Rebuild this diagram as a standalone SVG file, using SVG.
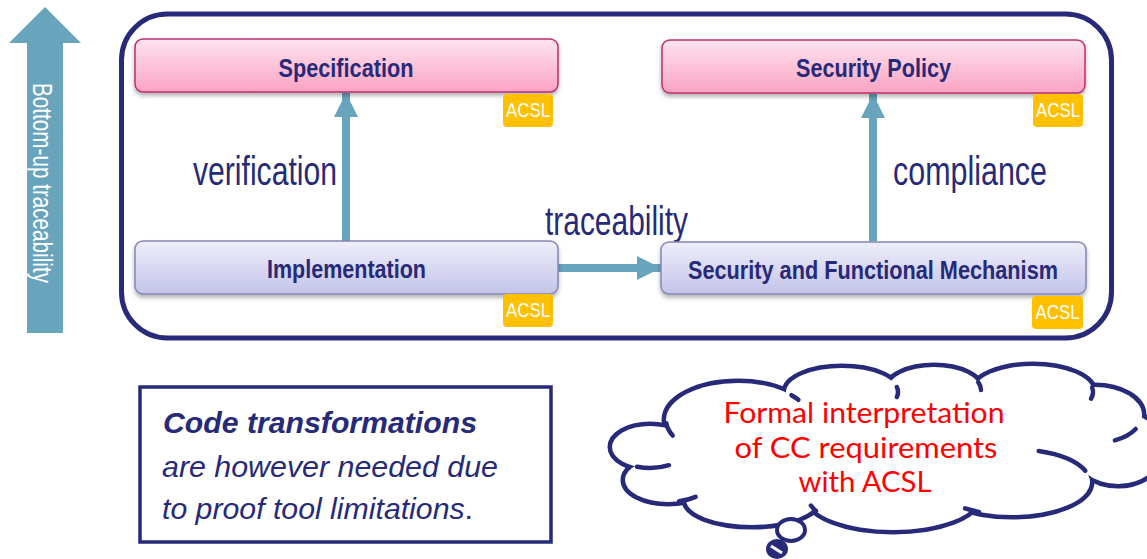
<svg xmlns="http://www.w3.org/2000/svg" width="1147" height="559" viewBox="0 0 1147 559">
<defs>
  <linearGradient id="gPink" x1="0" y1="0" x2="0" y2="1">
    <stop offset="0" stop-color="#fde4ef"/>
    <stop offset="1" stop-color="#fba3c3"/>
  </linearGradient>
  <linearGradient id="gLav" x1="0" y1="0" x2="0" y2="1">
    <stop offset="0" stop-color="#efeefa"/>
    <stop offset="1" stop-color="#c3c3ea"/>
  </linearGradient>
  <filter id="shadow" x="-5%" y="-20%" width="110%" height="150%">
    <feDropShadow dx="0" dy="3" stdDeviation="2" flood-color="#000" flood-opacity="0.3"/>
  </filter>
  <marker id="ah" viewBox="0 0 24 24" refX="24" refY="12" markerWidth="24" markerHeight="24" markerUnits="userSpaceOnUse" orient="auto">
    <path d="M0,0 L24,12 L0,24 Z" fill="#68a4bb"/>
  </marker>
</defs>
<style>
  .navy { fill: #262a78; }
  .box-pink { fill: url(#gPink); stroke: #bd2e6e; stroke-width: 1.5; filter: url(#shadow); }
  .box-lav { fill: url(#gLav); stroke: #8585b5; stroke-width: 1.5; filter: url(#shadow); }
  .lbl { font-family: "Liberation Sans Narrow", "Liberation Sans", Arial, sans-serif; font-weight: bold; font-size: 26px; fill: #262a78; text-anchor: middle; }
  .badge { fill: #ffc000; }
  .badge-t { font-family: "Liberation Sans Narrow", "Liberation Sans", Arial, sans-serif; font-size: 21px; fill: #ffffff; text-anchor: middle; }
  .edge-lbl { font-family: "Liberation Sans Narrow", "Liberation Sans", Arial, sans-serif; font-size: 40px; fill: #262a78; }
  .conn { stroke: #68a4bb; stroke-width: 8; fill: none; }
  .cloud-s { fill: none; stroke: #262a78; stroke-width: 9; }
  .cloud-f { fill: #ffffff; stroke: none; }
  .tick { fill: none; stroke: #262a78; stroke-width: 4.5; stroke-linecap: round; }
  .cloud-t { font-family: Lato, "Open Sans", sans-serif; font-size: 28px; fill: #ff0000; text-anchor: middle; }
  .note { font-family: "Liberation Sans", Arial, sans-serif; font-size: 30px; font-style: italic; fill: #262a78; }
</style>

<!-- Bottom-up traceability arrow -->
<g id="bottom-up">
  <polygon points="45,7 81,43 63,43 63,333 27,333 27,43 9,43" fill="#68a4bb"/>
  <text transform="translate(33,183) rotate(90)" font-family="Liberation Sans Narrow, Liberation Sans, Arial, sans-serif" font-size="27" fill="#ffffff" text-anchor="middle" textLength="200" lengthAdjust="spacingAndGlyphs">Bottom-up traceability</text>
</g>

<!-- Container -->
<g id="container">
  <rect x="121.5" y="14" width="990" height="324" rx="46" fill="none" stroke="#262a78" stroke-width="5"/>
</g>

<!-- Connectors -->
<g id="connectors">
  <line class="conn" x1="346" y1="241" x2="346" y2="93" marker-end="url(#ah)"/>
  <line class="conn" x1="873" y1="241" x2="873" y2="94" marker-end="url(#ah)"/>
  <line class="conn" x1="558" y1="268" x2="661" y2="268" marker-end="url(#ah)"/>
  <text class="edge-lbl" x="193" y="185" textLength="144" lengthAdjust="spacingAndGlyphs">verification</text>
  <text class="edge-lbl" x="893" y="185" textLength="154" lengthAdjust="spacingAndGlyphs">compliance</text>
  <text class="edge-lbl" x="545" y="235" textLength="143" lengthAdjust="spacingAndGlyphs">traceability</text>
</g>

<g id="specification">
  <rect class="box-pink" x="135" y="39" width="423" height="53" rx="8"/>
  <text class="lbl" x="346" y="77" textLength="135" lengthAdjust="spacingAndGlyphs">Specification</text>
  <rect class="badge" x="503" y="94" width="50" height="33" rx="4"/>
  <text class="badge-t" x="528" y="117" textLength="44" lengthAdjust="spacingAndGlyphs">ACSL</text>
</g>

<g id="security-policy">
  <rect class="box-pink" x="662" y="40" width="423" height="53" rx="8"/>
  <text class="lbl" x="873.5" y="77" textLength="155" lengthAdjust="spacingAndGlyphs">Security Policy</text>
  <rect class="badge" x="1033" y="94" width="50" height="33" rx="4"/>
  <text class="badge-t" x="1058" y="117" textLength="44" lengthAdjust="spacingAndGlyphs">ACSL</text>
</g>

<g id="implementation">
  <rect class="box-lav" x="135" y="241" width="423" height="53" rx="8"/>
  <text class="lbl" x="346.5" y="278" textLength="159" lengthAdjust="spacingAndGlyphs">Implementation</text>
  <rect class="badge" x="503" y="294" width="50" height="33" rx="4"/>
  <text class="badge-t" x="528" y="317" textLength="44" lengthAdjust="spacingAndGlyphs">ACSL</text>
</g>

<g id="mechanism">
  <rect class="box-lav" x="661" y="242" width="425" height="52" rx="8"/>
  <text class="lbl" x="873" y="279" textLength="370" lengthAdjust="spacingAndGlyphs">Security and Functional Mechanism</text>
  <rect class="badge" x="1032" y="296" width="51" height="33" rx="4"/>
  <text class="badge-t" x="1057.5" y="319" textLength="44" lengthAdjust="spacingAndGlyphs">ACSL</text>
</g>

<!-- Note box -->
<g id="note">
  <rect x="140" y="387" width="411" height="155" fill="#ffffff" stroke="#262a78" stroke-width="3.5"/>
  <text class="note" x="163" y="433" font-weight="bold" textLength="314" lengthAdjust="spacingAndGlyphs">Code transformations</text>
  <text class="note" x="162" y="477" textLength="336" lengthAdjust="spacingAndGlyphs">are however needed due</text>
  <text class="note" x="162" y="519" textLength="311" lengthAdjust="spacingAndGlyphs">to proof tool limitations<tspan font-style="normal">.</tspan></text>
</g>

<!-- Cloud callout -->
<g id="cloud">
  <g class="cloud-s">
    <ellipse cx="738" cy="420" rx="72" ry="37"/>
    <ellipse cx="842" cy="392" rx="56" ry="24"/>
    <ellipse cx="934" cy="390" rx="47" ry="23"/>
    <ellipse cx="1033" cy="392" rx="60" ry="26"/>
    <ellipse cx="1095" cy="415" rx="47" ry="28"/>
    <ellipse cx="1118" cy="448" rx="45" ry="36"/>
    <ellipse cx="1012" cy="482" rx="78" ry="33"/>
    <ellipse cx="893" cy="497" rx="85" ry="33"/>
    <ellipse cx="752" cy="500" rx="66" ry="25"/>
    <ellipse cx="668" cy="480" rx="43" ry="22"/>
    <ellipse cx="650" cy="447" rx="38" ry="21"/>
  </g>
  <g class="cloud-f">
    <ellipse cx="738" cy="420" rx="72" ry="37"/>
    <ellipse cx="842" cy="392" rx="56" ry="24"/>
    <ellipse cx="934" cy="390" rx="47" ry="23"/>
    <ellipse cx="1033" cy="392" rx="60" ry="26"/>
    <ellipse cx="1095" cy="415" rx="47" ry="28"/>
    <ellipse cx="1118" cy="448" rx="45" ry="36"/>
    <ellipse cx="1012" cy="482" rx="78" ry="33"/>
    <ellipse cx="893" cy="497" rx="85" ry="33"/>
    <ellipse cx="752" cy="500" rx="66" ry="25"/>
    <ellipse cx="668" cy="480" rx="43" ry="22"/>
    <ellipse cx="650" cy="447" rx="38" ry="21"/>
    <polygon points="738,420 842,392 934,390 1033,392 1095,415 1118,448 1012,482 893,497 752,500 668,480 650,447"/>
  </g>
  <g class="tick">
    <path d="M791.5,395.2 A72,37 0 0 1 798.4,399.8"/>
    <path d="M896.8,387 A56,24 0 0 1 896.8,397"/>
    <path d="M978.2,382.1 A47,23 0 0 1 981,390"/>
    <path d="M1092.1,387.5 A60,26 0 0 1 1091,398.7"/>
    <path d="M1135.7,429 A47,28 0 0 1 1114.9,440.4"/>
    <path d="M1038.7,451 A78,33 0 0 1 1085.3,470.7"/>
    <path d="M979,511.9 A78,33 0 0 1 965.1,508.4"/>
    <path d="M816,510.9 A85,33 0 0 1 810.9,505.5"/>
    <path d="M695.6,496.9 A43,22 0 0 1 679.1,501.3"/>
    <path d="M669,465.2 A38,21 0 0 1 637,466.7"/>
    <path d="M672.7,435.6 A72,37 0 0 1 666.3,423.2"/>
  </g>
  <ellipse cx="791" cy="530" rx="14" ry="11" fill="#ffffff" stroke="#262a78" stroke-width="4"/>
  <ellipse cx="777" cy="549" rx="11" ry="10" fill="#262a78"/>
  <line x1="771" y1="546" x2="782" y2="553" stroke="#ffffff" stroke-width="3"/>
  <text class="cloud-t" x="864" y="423" textLength="281" lengthAdjust="spacingAndGlyphs">Formal interpretation</text>
  <text class="cloud-t" x="866" y="458" textLength="263" lengthAdjust="spacingAndGlyphs">of CC requirements</text>
  <text class="cloud-t" x="865" y="492" textLength="133" lengthAdjust="spacingAndGlyphs">with ACSL</text>
</g>
</svg>
